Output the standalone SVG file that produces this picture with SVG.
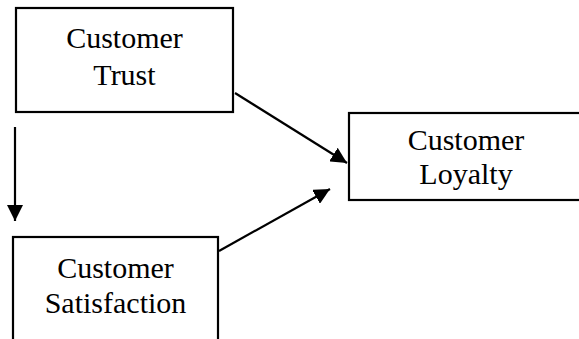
<svg xmlns="http://www.w3.org/2000/svg" width="579" height="339" viewBox="0 0 579 339">
<style>
.box{fill:#fff;stroke:#000;stroke-width:2.2}
.t{font-family:"Liberation Serif","Times New Roman",serif;font-size:30px;fill:#000;text-anchor:middle}
.c{stroke:#000;stroke-width:2.2;fill:none}
</style>
<defs>
<marker id="ah" viewBox="0 0 10 10" refX="10" refY="5" markerWidth="8" markerHeight="8" markerUnits="userSpaceOnUse" orient="auto">
<path d="M0,0 L10,5 L0,10 z" fill="#000"/>
</marker>
<marker id="ah2" viewBox="0 0 16 16" refX="16" refY="8" markerWidth="16" markerHeight="16" markerUnits="userSpaceOnUse" orient="auto">
<path d="M0,0 L16,8 L0,16 z" fill="#000"/>
</marker>
</defs>
<g id="trust">
<rect class="box" x="16" y="8" width="217" height="104"/>
<text class="t" x="124.5" y="48">Customer</text>
<text class="t" x="124.5" y="85">Trust</text>
</g>
<g id="satisfaction">
<rect class="box" x="13" y="237" width="205" height="110"/>
<text class="t" x="115.5" y="278">Customer</text>
<text class="t" x="115.5" y="313">Satisfaction</text>
</g>
<g id="loyalty">
<rect class="box" x="349" y="113" width="240" height="87"/>
<text class="t" x="466" y="150">Customer</text>
<text class="t" x="466" y="184">Loyalty</text>
</g>
<g id="connectors">
<line class="c" x1="15" y1="127" x2="15" y2="221" marker-end="url(#ah2)"/>
<line class="c" x1="235" y1="93" x2="347" y2="163" marker-end="url(#ah2)"/>
<line class="c" x1="219" y1="251" x2="330" y2="189" marker-end="url(#ah2)"/>
</g>
</svg>
